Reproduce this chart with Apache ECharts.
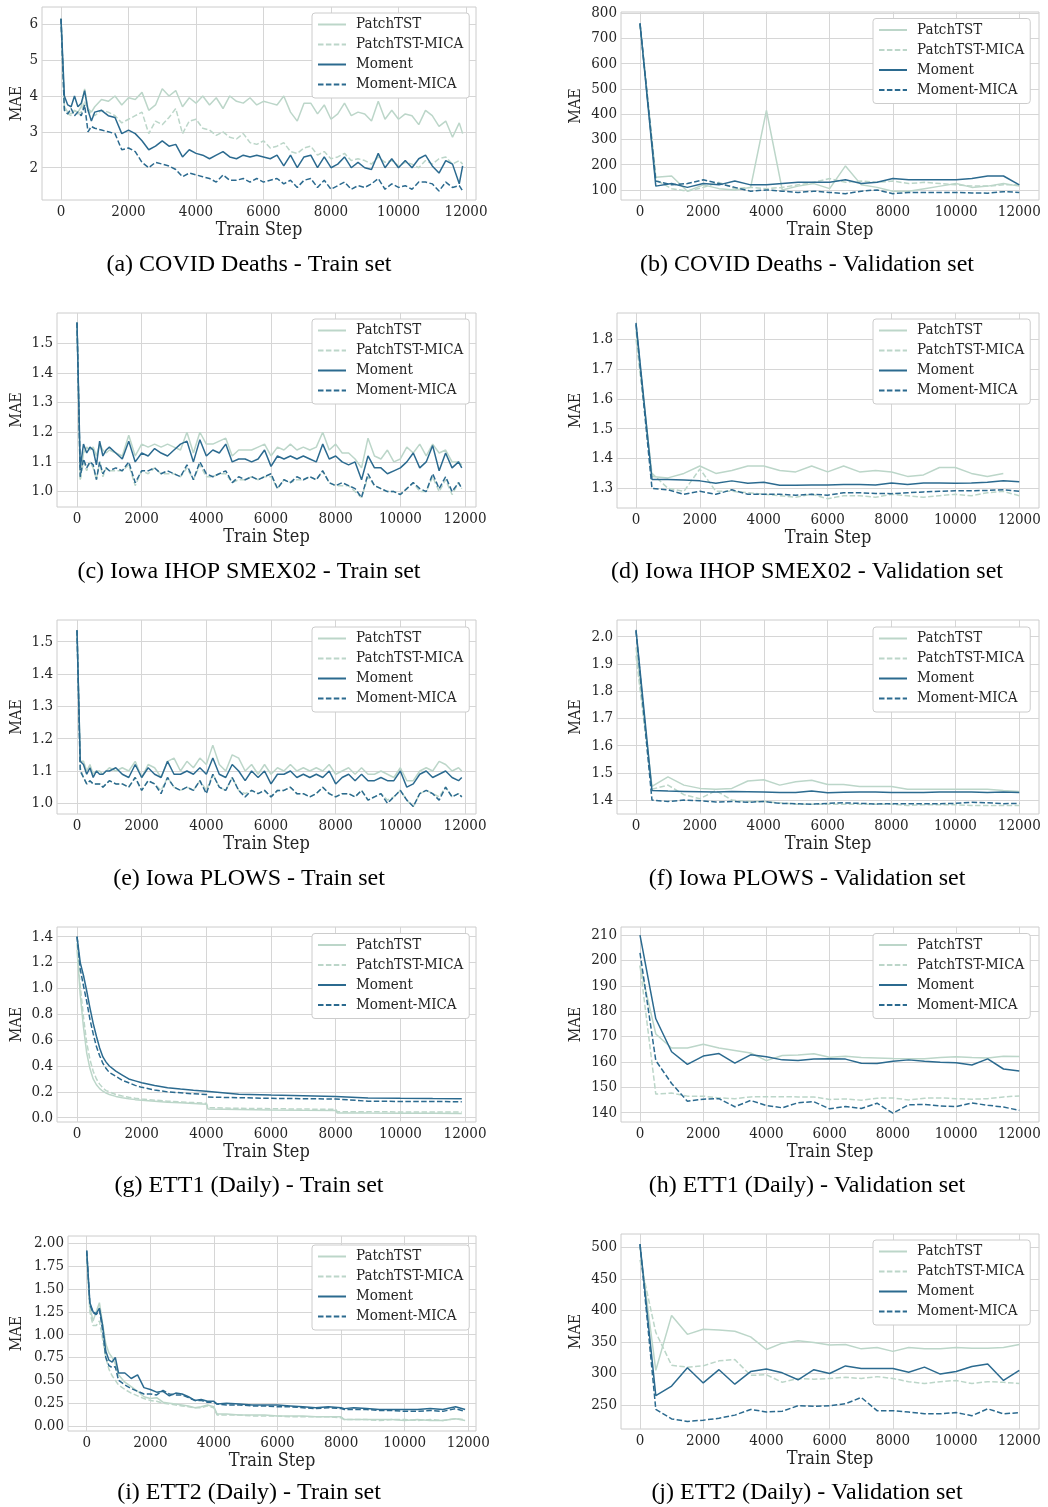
<!DOCTYPE html>
<html>
<head>
<meta charset="utf-8">
<script src="https://cdn.jsdelivr.net/npm/echarts@6/dist/echarts.min.js"></script>
<style>html,body{margin:0;padding:0;background:#fff}#c{width:1048px;height:1507px}</style>
</head>
<body>
<div id="c"></div>
<script>
// ---------------- DATA ----------------
const SERIES_NAMES = ['PatchTST', 'PatchTST-MICA', 'Moment', 'Moment-MICA'];
const X_TICKS = [0, 2000, 4000, 6000, 8000, 10000, 12000];

const TRAIN_STEPS = [0,100,200,300,400,500,600,700,800,900,
  1000,1200,1400,1600,1800, 2000,2200,2400,2600,2800, 3000,3200,3400,3600,3800,
  4000,4200,4400,4600,4800, 5000,5200,5400,5600,5800, 6000,6200,6400,6600,6800,
  7000,7200,7400,7600,7800, 8000,8200,8400,8600,8800, 9000,9200,9400,9600,9800,
  10000,10200,10400,10600,10800, 11000,11200,11400,11600,11800, 11900];
const VAL_STEPS = [0,500,1000,1500,2000,2500,3000,3500,4000,4500,5000,5500,6000,
  6500,7000,7500,8000,8500,9000,9500,10000,10500,11000,11500,12000];
const G_STEPS = [0,100,200,300,400,500,600,700,800,900,1000,1200,1400,1600,1800,2000,
  2400,2800,3200,3600,4000,4050,5000,6000,7000,8000,8050,9000,10000,11000,11900];
const I_STEPS = [0,100,200,300,400,500,600,700,800,900,1000,
  1200,1400,1600,1800,2000,2200,2400,2600,2800,3000,3200,3400,3600,3800,4000,
  4100, 4400,4800,5200,5600,6000,6400,6800,7200,7600,8000,
  8100, 8400,8800,9200,9600,10000,10400,10800,11200,11600, 11900];

// (a) COVID Deaths - Train
const a_patch = [6.15,3.7,3.55,3.5,3.6,3.55,3.7,4.2,3.65,3.55,
  3.7,3.9,3.85,4.0,3.75, 3.95,3.9,4.1,3.6,3.75, 4.2,4.0,4.15,3.7,3.95,
  3.8,4.0,3.75,3.95,3.65, 4.0,3.85,3.8,3.95,3.75, 3.85,3.8,3.75,4.0,3.55,
  3.3,3.8,3.8,3.5,3.75, 3.35,3.5,3.8,3.45,3.55, 3.5,3.3,3.85,3.35,3.6,
  3.35,3.5,3.45,3.2,3.6, 3.45,3.15,3.3,2.85,3.25, 2.95];
const a_patchMica = [6.15,3.65,3.5,3.45,3.6,3.5,3.55,3.85,3.6,3.5,
  3.45,3.6,3.55,3.45,3.25, 3.35,3.45,3.55,2.95,3.3, 3.2,3.4,3.65,2.95,3.3,
  3.35,3.1,3.05,2.9,3.0, 2.85,2.8,2.95,2.7,2.65, 2.75,2.55,2.6,2.7,2.45,
  2.4,2.55,2.6,2.35,2.45, 2.25,2.3,2.4,2.2,2.25, 2.2,2.1,2.3,2.15,2.2,
  2.05,2.15,2.1,2.0,2.2, 2.1,2.25,2.3,2.1,2.2, 2.1];
const a_moment = [6.15,4.0,3.75,3.7,4.0,3.7,3.8,4.15,3.6,3.3,
  3.55,3.6,3.45,3.4,2.95, 3.05,2.95,2.75,2.5,2.6, 2.75,2.6,2.65,2.3,2.5,
  2.4,2.35,2.25,2.35,2.45, 2.3,2.25,2.35,2.3,2.35, 2.3,2.25,2.35,2.05,2.35,
  2.0,2.3,2.35,2.0,2.3, 2.0,2.1,2.3,2.0,2.15, 2.0,1.95,2.4,2.0,2.25,
  2.0,2.2,2.0,2.25,2.35, 2.05,1.85,2.2,2.1,1.55, 2.05];
const a_momentMica = [6.15,3.6,3.5,3.65,3.45,3.55,3.45,3.75,3.0,3.15,
  3.1,3.05,3.0,2.95,2.5, 2.55,2.45,2.15,2.0,2.15, 2.1,2.05,1.95,1.75,1.85,
  1.8,1.75,1.7,1.6,1.8, 1.65,1.65,1.7,1.6,1.7, 1.6,1.65,1.7,1.55,1.65,
  1.45,1.65,1.7,1.45,1.65, 1.4,1.5,1.6,1.4,1.5, 1.45,1.55,1.7,1.4,1.55,
  1.45,1.5,1.4,1.6,1.6, 1.55,1.35,1.6,1.45,1.5, 1.35];

// (b) COVID Deaths - Validation
const b_patch = [760,150,155,95,120,105,100,110,415,100,115,125,105,195,120,110,95,95,105,115,125,110,115,125,115];
const b_patchMica = [755,140,105,95,110,130,105,110,105,110,120,130,145,130,135,130,135,125,130,125,120,115,115,120,120];
const b_moment = [760,115,125,110,125,120,135,120,120,125,130,130,130,140,125,130,145,140,140,140,140,145,155,155,120];
const b_momentMica = [760,135,120,125,140,125,110,95,100,95,90,95,90,85,95,100,85,90,90,90,90,88,87,93,90];

// (c) Iowa IHOP SMEX02 - Train
const c_patch = [1.57,1.04,1.13,1.15,1.14,1.15,1.12,1.16,1.14,1.13,
  1.14,1.13,1.12,1.19,1.12, 1.16,1.15,1.16,1.15,1.16, 1.15,1.14,1.2,1.13,1.2,
  1.16,1.16,1.17,1.18,1.12, 1.14,1.14,1.14,1.15,1.16, 1.12,1.15,1.14,1.16,1.14,
  1.15,1.14,1.15,1.2,1.14, 1.16,1.13,1.13,1.11,1.08, 1.18,1.12,1.11,1.14,1.1,
  1.11,1.15,1.13,1.16,1.12, 1.16,1.13,1.14,1.1,1.1, 1.09];
const c_patchMica = [1.57,1.04,1.1,1.07,1.1,1.08,1.04,1.1,1.05,1.08,
  1.07,1.07,1.07,1.09,1.02, 1.07,1.06,1.08,1.06,1.06, 1.06,1.05,1.08,1.04,1.09,
  1.05,1.05,1.06,1.06,1.03, 1.04,1.04,1.05,1.04,1.05, 1.05,1.01,1.04,1.03,1.04,
  1.04,1.05,1.04,1.07,1.03, 1.02,1.02,1.02,1.0,0.98, 1.05,1.02,1.01,1.0,1.0,
  0.99,1.01,1.03,1.0,1.0, 1.05,1.0,1.04,0.99,1.03, 1.01];
const c_moment = [1.57,1.08,1.16,1.13,1.15,1.14,1.09,1.17,1.12,1.14,
  1.15,1.13,1.11,1.17,1.10, 1.13,1.12,1.145,1.13,1.12, 1.14,1.16,1.17,1.10,1.175,
  1.12,1.14,1.13,1.16,1.10, 1.11,1.11,1.10,1.11,1.14, 1.085,1.12,1.11,1.12,1.11,
  1.12,1.11,1.10,1.16,1.11, 1.12,1.10,1.09,1.10,1.04, 1.12,1.08,1.08,1.06,1.07,
  1.08,1.10,1.13,1.08,1.10, 1.155,1.07,1.13,1.08,1.10, 1.08];
const c_momentMica = [1.57,1.05,1.11,1.08,1.1,1.09,1.04,1.1,1.06,1.08,
  1.07,1.08,1.07,1.1,1.03, 1.07,1.07,1.08,1.06,1.07, 1.06,1.05,1.09,1.04,1.1,
  1.06,1.05,1.06,1.07,1.03, 1.05,1.04,1.05,1.04,1.05, 1.06,1.01,1.04,1.03,1.05,
  1.04,1.05,1.04,1.07,1.03, 1.02,1.03,1.02,1.01,0.98, 1.06,1.02,1.01,1.0,1.0,
  0.99,1.01,1.03,1.01,1.0, 1.06,1.01,1.05,1.0,1.03, 1.01];

// (d) Iowa IHOP SMEX02 - Validation
const d_patch = [1.83,1.34,1.335,1.35,1.375,1.35,1.36,1.375,1.375,1.36,1.355,1.375,1.355,1.375,1.355,1.36,1.355,1.34,1.345,1.37,1.37,1.35,1.34,1.35];
const d_patchMica = [1.8,1.35,1.3,1.29,1.365,1.29,1.29,1.285,1.28,1.275,1.27,1.28,1.265,1.275,1.275,1.27,1.28,1.275,1.27,1.275,1.28,1.275,1.285,1.29,1.275];
const d_moment = [1.855,1.33,1.33,1.328,1.325,1.317,1.325,1.317,1.32,1.31,1.31,1.311,1.311,1.313,1.313,1.311,1.318,1.313,1.318,1.318,1.317,1.318,1.32,1.325,1.322];
const d_momentMica = [1.85,1.3,1.295,1.28,1.29,1.28,1.295,1.28,1.28,1.28,1.277,1.28,1.277,1.285,1.285,1.283,1.282,1.285,1.288,1.29,1.292,1.292,1.293,1.295,1.29];

// (e) Iowa PLOWS - Train
const e_patch = [1.535,1.13,1.13,1.1,1.12,1.09,1.1,1.1,1.09,1.1,
  1.11,1.1,1.11,1.1,1.13, 1.08,1.12,1.11,1.08,1.13, 1.14,1.1,1.13,1.11,1.14,
  1.12,1.18,1.12,1.1,1.15, 1.14,1.1,1.12,1.09,1.12, 1.09,1.11,1.1,1.12,1.1,
  1.11,1.1,1.11,1.1,1.12, 1.09,1.1,1.11,1.09,1.11, 1.09,1.09,1.1,1.09,1.08,
  1.11,1.07,1.07,1.1,1.11, 1.1,1.13,1.12,1.1,1.11, 1.1];
const e_patchMica = [1.535,1.11,1.08,1.06,1.07,1.06,1.06,1.06,1.05,1.06,
  1.07,1.06,1.06,1.05,1.08, 1.04,1.07,1.06,1.04,1.08, 1.05,1.04,1.05,1.04,1.07,
  1.04,1.09,1.05,1.04,1.08, 1.04,1.03,1.04,1.03,1.04, 1.02,1.04,1.04,1.05,1.03,
  1.03,1.02,1.03,1.05,1.03, 1.02,1.03,1.03,1.02,1.04, 1.01,1.02,1.03,1.01,1.02,
  1.04,1.01,0.99,1.03,1.04, 1.03,1.02,1.05,1.02,1.03, 1.02];
const e_moment = [1.535,1.13,1.12,1.09,1.11,1.08,1.1,1.09,1.09,1.1,
  1.1,1.11,1.09,1.08,1.12, 1.08,1.11,1.09,1.08,1.13, 1.09,1.09,1.1,1.09,1.11,
  1.09,1.14,1.09,1.08,1.12, 1.1,1.07,1.1,1.08,1.1, 1.06,1.09,1.09,1.1,1.08,
  1.09,1.08,1.09,1.08,1.1, 1.06,1.08,1.09,1.07,1.09, 1.07,1.07,1.08,1.07,1.07,
  1.1,1.05,1.06,1.09,1.1, 1.08,1.09,1.1,1.08,1.07, 1.08];
const e_momentMica = [1.535,1.1,1.08,1.06,1.07,1.06,1.06,1.06,1.05,1.06,
  1.07,1.06,1.06,1.05,1.08, 1.04,1.07,1.06,1.03,1.08, 1.05,1.04,1.05,1.04,1.07,
  1.03,1.09,1.05,1.04,1.08, 1.04,1.02,1.04,1.03,1.04, 1.02,1.04,1.04,1.05,1.03,
  1.03,1.02,1.03,1.05,1.03, 1.02,1.03,1.03,1.02,1.04, 1.01,1.02,1.03,1.0,1.02,
  1.04,1.01,0.99,1.03,1.04, 1.03,1.01,1.05,1.02,1.03, 1.02];

// (f) Iowa PLOWS - Validation
const f_patch = [1.96,1.45,1.485,1.455,1.443,1.44,1.443,1.47,1.475,1.455,1.467,1.473,1.457,1.457,1.45,1.45,1.45,1.44,1.44,1.44,1.44,1.44,1.44,1.435,1.432];
const f_patchMica = [1.93,1.44,1.455,1.42,1.405,1.435,1.4,1.395,1.395,1.39,1.385,1.385,1.385,1.385,1.385,1.385,1.385,1.38,1.383,1.383,1.383,1.38,1.38,1.38,1.38];
const f_moment = [2.025,1.435,1.433,1.432,1.431,1.43,1.432,1.431,1.43,1.428,1.428,1.433,1.427,1.429,1.43,1.43,1.428,1.428,1.428,1.43,1.43,1.43,1.428,1.43,1.428];
const f_momentMica = [2.02,1.4,1.395,1.4,1.398,1.393,1.395,1.392,1.395,1.388,1.387,1.385,1.388,1.39,1.388,1.386,1.387,1.387,1.387,1.387,1.388,1.392,1.39,1.387,1.388];

// (g) ETT1 (Daily) - Train
const g_patch = [1.3,0.95,0.7,0.5,0.38,0.3,0.255,0.225,0.205,0.19,0.18,0.165,0.155,0.147,0.14,0.135,
  0.128,0.12,0.115,0.11,0.105,0.068,0.064,0.06,0.057,0.055,0.037,0.036,0.035,0.034,0.033];
const g_patchMica = [1.35,1.02,0.78,0.58,0.45,0.36,0.3,0.26,0.23,0.21,0.2,0.18,0.168,0.158,0.15,0.145,
  0.136,0.128,0.122,0.117,0.112,0.078,0.073,0.07,0.067,0.065,0.047,0.046,0.045,0.045,0.044];
const g_moment = [1.4,1.2,1.1,0.98,0.85,0.73,0.63,0.54,0.47,0.43,0.4,0.36,0.33,0.3,0.285,0.27,
  0.25,0.232,0.222,0.213,0.205,0.19,0.182,0.175,0.17,0.165,0.155,0.153,0.15,0.148,0.147];
const g_momentMica = [1.4,1.15,1.02,0.9,0.76,0.65,0.55,0.48,0.42,0.38,0.35,0.32,0.29,0.27,0.25,0.235,
  0.215,0.2,0.193,0.185,0.18,0.16,0.155,0.15,0.147,0.145,0.13,0.128,0.126,0.125,0.124];

// (h) ETT1 (Daily) - Validation
const h_patch = [198,171,165.5,165.5,167,165.5,164.5,163.5,160.5,162.5,162.7,163.2,161.8,162.2,161.7,161.5,161.3,161.2,161.2,161.7,162,161.7,161.5,162.2,162.1];
const h_patchMica = [198,147.3,147.7,146.5,146.5,145.8,145.5,146.2,146.3,146.3,146.2,146.2,145.2,145.4,144.9,145.7,145.8,145,145.7,145.8,145.5,145.3,145.5,146.2,146.6];
const h_moment = [210,177,164,159,162.3,163.3,159.5,162.8,162,160.8,160.6,161.1,161.2,161.1,159.5,159.4,160.3,160.8,160.3,159.9,159.7,158.8,161.2,157.2,156.4];
const h_momentMica = [203,160.5,151.5,144.5,145.3,145.5,142.3,144.8,142.8,141.9,143.9,144.3,141.5,142.4,141.6,143.7,139.8,143.1,143.2,142.6,142.4,143.8,142.9,142.2,140.9];

// (i) ETT2 (Daily) - Train
const i_patch = [1.9,1.3,1.15,1.25,1.35,1.12,0.9,0.8,0.75,0.68,0.56,
  0.48,0.43,0.38,0.32,0.3,0.31,0.26,0.25,0.24,0.23,0.22,0.2,0.21,0.23,0.21,
  0.13, 0.13,0.12,0.12,0.12,0.11,0.11,0.11,0.1,0.1,0.1,
  0.07, 0.07,0.07,0.07,0.07,0.06,0.07,0.06,0.06,0.08, 0.06];
const i_patchMica = [1.88,1.25,1.1,1.1,1.15,0.95,0.75,0.62,0.55,0.5,0.45,
  0.4,0.36,0.33,0.3,0.28,0.27,0.25,0.24,0.23,0.22,0.21,0.2,0.2,0.22,0.2,
  0.12, 0.12,0.12,0.11,0.11,0.11,0.1,0.1,0.1,0.1,0.09,
  0.07, 0.07,0.07,0.06,0.07,0.07,0.06,0.07,0.06,0.08, 0.07];
const i_moment = [1.92,1.35,1.25,1.23,1.29,1.1,0.82,0.72,0.7,0.75,0.58,
  0.58,0.52,0.56,0.42,0.4,0.37,0.38,0.33,0.36,0.35,0.32,0.28,0.29,0.27,0.27,
  0.24, 0.25,0.24,0.23,0.23,0.23,0.22,0.21,0.2,0.21,0.2,
  0.19, 0.2,0.19,0.18,0.18,0.18,0.18,0.19,0.18,0.21, 0.18];
const i_momentMica = [1.92,1.33,1.24,1.22,1.27,1.05,0.75,0.66,0.64,0.65,0.5,
  0.45,0.41,0.38,0.35,0.35,0.34,0.39,0.35,0.34,0.34,0.31,0.28,0.28,0.26,0.26,
  0.24, 0.23,0.23,0.22,0.22,0.21,0.21,0.2,0.19,0.2,0.19,
  0.18, 0.18,0.18,0.17,0.17,0.16,0.16,0.17,0.16,0.19, 0.16];

// (j) ETT2 (Daily) - Validation
const j_patch = [500,305,392,362,370,369,367,358,338,348,352,349,345,346,339,341,335,341,339,339,341,340,340,341,346];
const j_patchMica = [480,365,313,310,312,320,322,297,298,286,292,291,292,294,292,295,292,287,284,287,289,284,287,286,284];
const j_moment = [505,265,280,309,285,306,283,303,307,301,290,306,300,312,308,308,308,302,310,299,303,311,315,289,305];
const j_momentMica = [505,243,228,224,226,229,234,243,239,240,249,248,249,252,262,241,241,239,236,236,238,233,244,236,238];

// y tick labels
const a_yticks = [2,3,4,5,6];
const b_yticks = [100,200,300,400,500,600,700,800];
const c_yticks = [1.0,1.1,1.2,1.3,1.4,1.5];
const d_yticks = [1.3,1.4,1.5,1.6,1.7,1.8];
const e_yticks = [1.0,1.1,1.2,1.3,1.4,1.5];
const f_yticks = [1.4,1.5,1.6,1.7,1.8,1.9,2.0];
const g_yticks = [0.0,0.2,0.4,0.6,0.8,1.0,1.2,1.4];
const h_yticks = [140,150,160,170,180,190,200,210];
const i_yticks = [0.00,0.25,0.50,0.75,1.00,1.25,1.50,1.75,2.00];
const j_yticks = [250,300,350,400,450,500];

const CAPTIONS = ['(a) COVID Deaths - Train set','(b) COVID Deaths - Validation set',
  '(c) Iowa IHOP SMEX02 - Train set','(d) Iowa IHOP SMEX02 - Validation set',
  '(e) Iowa PLOWS - Train set','(f) Iowa PLOWS - Validation set',
  '(g) ETT1 (Daily) - Train set','(h) ETT1 (Daily) - Validation set',
  '(i) ETT2 (Daily) - Train set','(j) ETT2 (Daily) - Validation set'];

// ---------------- LAYOUT / STYLE ----------------
const PANELS = [
  {steps:TRAIN_STEPS, vals:[a_patch,a_patchMica,a_moment,a_momentMica], yt:a_yticks, dec:0,
   g:[42,7,434,193], x:[-563,12296], y:[1.10,6.48], lg:[312,13], yGap:17, xGap:20},
  {steps:VAL_STEPS, vals:[b_patch,b_patchMica,b_moment,b_momentMica], yt:b_yticks, dec:0,
   g:[621,12,418,188], x:[-601,12623], y:[60,805], lg:[873,18.5], yGap:37, xGap:20},
  {steps:TRAIN_STEPS, vals:[c_patch,c_patchMica,c_moment,c_momentMica], yt:c_yticks, dec:1,
   g:[57,313,419,194], x:[-619,12340], y:[0.948,1.602], lg:[312,319], yGap:32, xGap:20},
  {steps:VAL_STEPS, vals:[d_patch,d_patchMica,d_moment,d_momentMica], yt:d_yticks, dec:1,
   g:[617,313,422,195], x:[-595,12617], y:[1.234,1.888], lg:[873,319], yGap:33, xGap:19},
  {steps:TRAIN_STEPS, vals:[e_patch,e_patchMica,e_moment,e_momentMica], yt:e_yticks, dec:1,
   g:[57,620,419,194], x:[-619,12340], y:[0.967,1.567], lg:[312,627], yGap:32, xGap:20},
  {steps:VAL_STEPS, vals:[f_patch,f_patchMica,f_moment,f_momentMica], yt:f_yticks, dec:1,
   g:[617,620,422,194], x:[-595,12617], y:[1.349,2.061], lg:[873,627], yGap:33, xGap:20},
  {steps:G_STEPS, vals:[g_patch,g_patchMica,g_moment,g_momentMica], yt:g_yticks, dec:1,
   g:[57,927,419,195], x:[-619,12340], y:[-0.033,1.475], lg:[312,933.5], yGap:32, xGap:19},
  {steps:VAL_STEPS, vals:[h_patch,h_patchMica,h_moment,h_momentMica], yt:h_yticks, dec:0,
   g:[621,927,418,195], x:[-601,12623], y:[136.3,213.2], lg:[873,933.5], yGap:37, xGap:19},
  {steps:I_STEPS, vals:[i_patch,i_patchMica,i_moment,i_momentMica], yt:i_yticks, dec:2,
   g:[68,1236,408,195], x:[-588,12242], y:[-0.055,2.08], lg:[312,1245], yGap:43, xGap:17},
  {steps:VAL_STEPS, vals:[j_patch,j_patchMica,j_moment,j_momentMica], yt:j_yticks, dec:0,
   g:[621,1234,418,195], x:[-601,12623], y:[212,521], lg:[873,1240], yGap:37, xGap:19}
];
const CAP_POS = [[249,265],[807,265],[249,572],[807,572],[249,879],[807,879],[249,1186],[807,1186],[249,1493],[807,1493]];

const LIGHT = '#bcd6c9', DARK = '#2b6a8f';
const STYLES = [
  {color: LIGHT, type: 'solid'},
  {color: LIGHT, type: [5.5, 2.4]},
  {color: DARK, type: 'solid'},
  {color: DARK, type: [5.5, 2.4]}
];
const FONT = "'DejaVu Serif Condensed', 'DejaVu Serif', serif";
const TXT = '#262626';
const GRIDC = '#d6d6d6';

const grid = [], xAxis = [], yAxis = [], legend = [], series = [];
PANELS.forEach((p, k) => {
  grid.push({left: p.g[0], top: p.g[1], width: p.g[2], height: p.g[3], show: true,
    borderColor: '#cccccc', borderWidth: 1, backgroundColor: 'transparent',
    containLabel: false, outerBoundsMode: 'none'});
  xAxis.push({gridIndex: k, type: 'value', min: p.x[0], max: p.x[1],
    axisLine: {show: false}, axisTick: {show: false, customValues: X_TICKS},
    axisLabel: {customValues: X_TICKS, fontFamily: FONT, fontSize: 15, color: TXT, margin: 5,
      formatter: v => String(Math.round(v))},
    splitLine: {show: true, lineStyle: {color: GRIDC, width: 1}},
    name: 'Train Step', nameLocation: 'middle', nameGap: p.xGap,
    nameTextStyle: {fontFamily: FONT, fontSize: 18, color: TXT}});
  yAxis.push({gridIndex: k, type: 'value', min: p.y[0], max: p.y[1],
    axisLine: {show: false}, axisTick: {show: false, customValues: p.yt},
    axisLabel: {customValues: p.yt, fontFamily: FONT, fontSize: 15, color: TXT, margin: 4,
      formatter: v => v.toFixed(p.dec)},
    splitLine: {show: true, lineStyle: {color: GRIDC, width: 1}},
    name: 'MAE', nameLocation: 'middle', nameGap: p.yGap,
    nameTextStyle: {fontFamily: FONT, fontSize: 16, color: TXT}});
  legend.push({left: p.lg[0], top: p.lg[1], orient: 'vertical', data: SERIES_NAMES,
    itemWidth: 28, itemHeight: 14, itemGap: 5, padding: [4, 6, 6, 5],
    backgroundColor: '#ffffff', borderColor: '#cccccc', borderWidth: 1, borderRadius: 3,
    selectedMode: false, itemStyle: {opacity: 0},
    textStyle: {fontFamily: FONT, fontSize: 15, color: TXT, padding: [0, 0, 0, 5]}});
  p.vals.forEach((vals, s) => {
    series.push({type: 'line', name: SERIES_NAMES[s], xAxisIndex: k, yAxisIndex: k,
      data: vals.map((v, i) => [p.steps[i], v]),
      symbol: 'none', showSymbol: false, silent: true, clip: true,
      lineStyle: {color: STYLES[s].color, width: 1.5, type: STYLES[s].type},
      itemStyle: {color: STYLES[s].color}});
  });
});

const graphic = CAPTIONS.map((t, k) => ({type: 'text', x: CAP_POS[k][0], y: CAP_POS[k][1],
  style: {text: t, fontFamily: "'Liberation Serif', 'Times New Roman', serif", fontSize: 24,
    fill: '#000', align: 'center', verticalAlign: 'middle'}}));

const chart = echarts.init(document.getElementById('c'), null, {renderer: 'canvas'});
chart.setOption({animation: false, backgroundColor: '#ffffff',
  grid, xAxis, yAxis, legend, series, graphic});
</script>
</body>
</html>
